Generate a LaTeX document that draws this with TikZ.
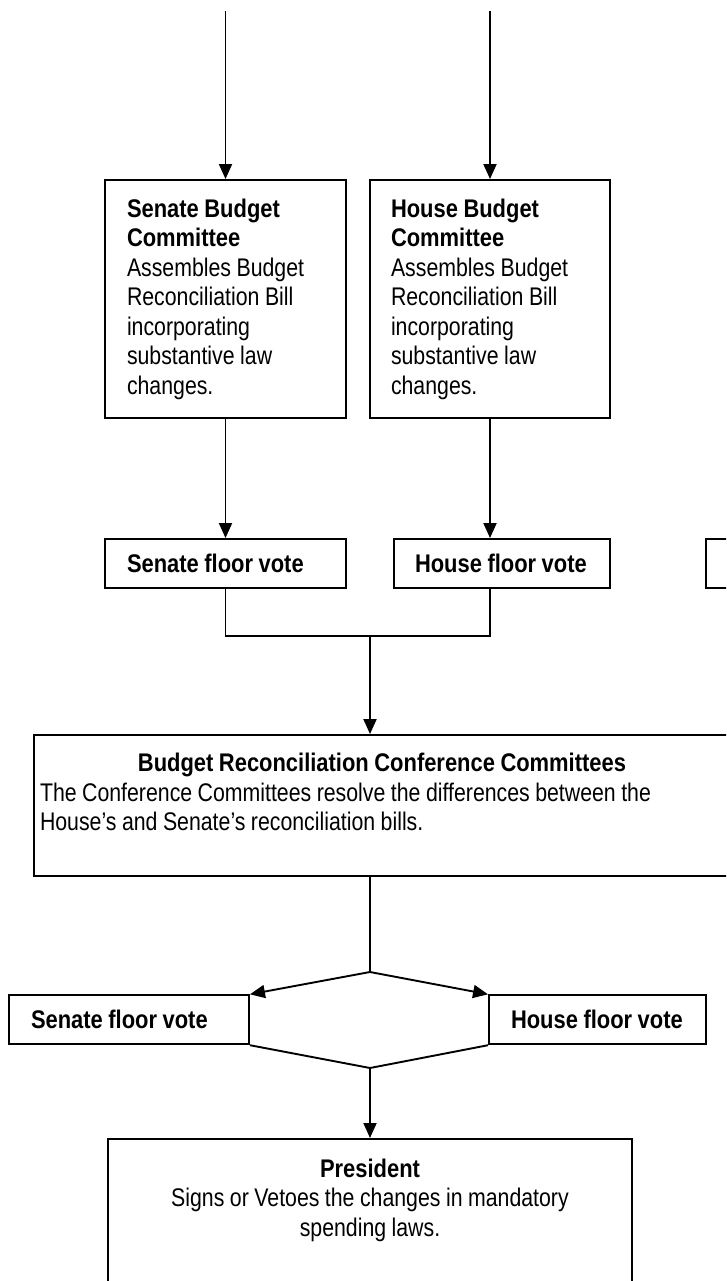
\documentclass[tikz,border=0pt]{standalone}
\usepackage{fontspec}
\setmainfont{Liberation Sans}[UprightFeatures={FakeStretch=0.835}, BoldFeatures={FakeStretch=0.86}]
\usetikzlibrary{arrows.meta}
\newcommand\myboxfont{\fontsize{25.5pt}{29.5pt}\selectfont}
\newcommand\myspaces{\spaceskip=5.5pt\relax\xspaceskip=\spaceskip}
\begin{document}
\begin{tikzpicture}[x=1pt,y=-1pt,
  box/.style={draw, line width=1.9pt, rectangle, inner ysep=0pt, font=\myboxfont, execute at begin node=\myspaces},
  vote/.style={box, inner xsep=22pt, minimum height=49pt, align=left, font=\bfseries\myboxfont},
  link/.style={line width=1.9pt},
  arr/.style={link, -{Triangle[length=15pt,width=13pt]}}]
\clip (0,0) rectangle (726,1281);
% budget committees
\node[box, text width=197pt, inner xsep=22pt, minimum height=238pt, align=left] (sb) at (225.5,299)
  {\textbf{Senate Budget}\\\textbf{Committee}\\Assembles Budget\\Reconciliation Bill\\incorporating\\substantive law\\changes.};
\node[box, text width=198pt, inner xsep=21pt, minimum height=238pt, align=left] (hb) at (490,299)
  {\textbf{House Budget}\\\textbf{Committee}\\Assembles Budget\\Reconciliation Bill\\incorporating\\substantive law\\changes.};
% first floor votes
\node[vote, text width=197pt] (sf) at (225.5,563.5) {\mbox{Senate floor vote}};
\node[vote, text width=174pt, inner xsep=21pt] (hf) at (502,563.5) {\mbox{House floor vote}};
\node[box, minimum width=200pt, minimum height=49pt] (xf) at (806,563.5) {};
% conference
\node[box, text width=684pt, inner xsep=6pt, minimum height=141pt, align=left] (cf) at (382,805.5)
  {{\centering\textbf{Budget Reconciliation Conference Committees}\par}The Conference Committees resolve the differences between the\\House’s and Senate’s reconciliation bills.\rule[-27pt]{0pt}{27pt}};
% second floor votes
\node[vote, text width=196pt] (ls) at (129,1019.75) {\mbox{Senate floor vote}};
\node[vote, text width=173pt] (lh) at (597.5,1019.75) {\mbox{House floor vote}};
% president
\node[box, anchor=north, text width=500pt, inner xsep=12pt, inner ysep=20pt, align=center] (pr) at (370,1138)
  {\textbf{President}\\Signs or Vetoes the changes in mandatory\\spending laws.\rule[-80pt]{0pt}{80pt}};
% connectors
\coordinate (t1) at (225.5,11);
\coordinate (t2) at (490,11);
\draw[arr] (t1) -- (sb.north);
\draw[arr] (t2) -- (hb.north);
\draw[arr] (sb.south) -- (sf.north);
\draw[arr] (hb.south) -- (hb.south |- hf.north);
\coordinate (m1) at (370,636);
\draw[link] (sf.south) |- (m1) -| (hb.south |- hf.south);
\draw[arr] (m1) -- (m1 |- cf.north);
\coordinate (m2) at (370,972);
\draw[link] (m1 |- cf.south) -- (m2);
\draw[arr] (m2) -- (ls.north east);
\draw[arr] (m2) -- (lh.north west);
\coordinate (m3) at (370,1068);
\draw[link] (ls.south east) -- (m3) -- (lh.south west);
\draw[arr] (m3) -- (pr.north);
\end{tikzpicture}
\end{document}
